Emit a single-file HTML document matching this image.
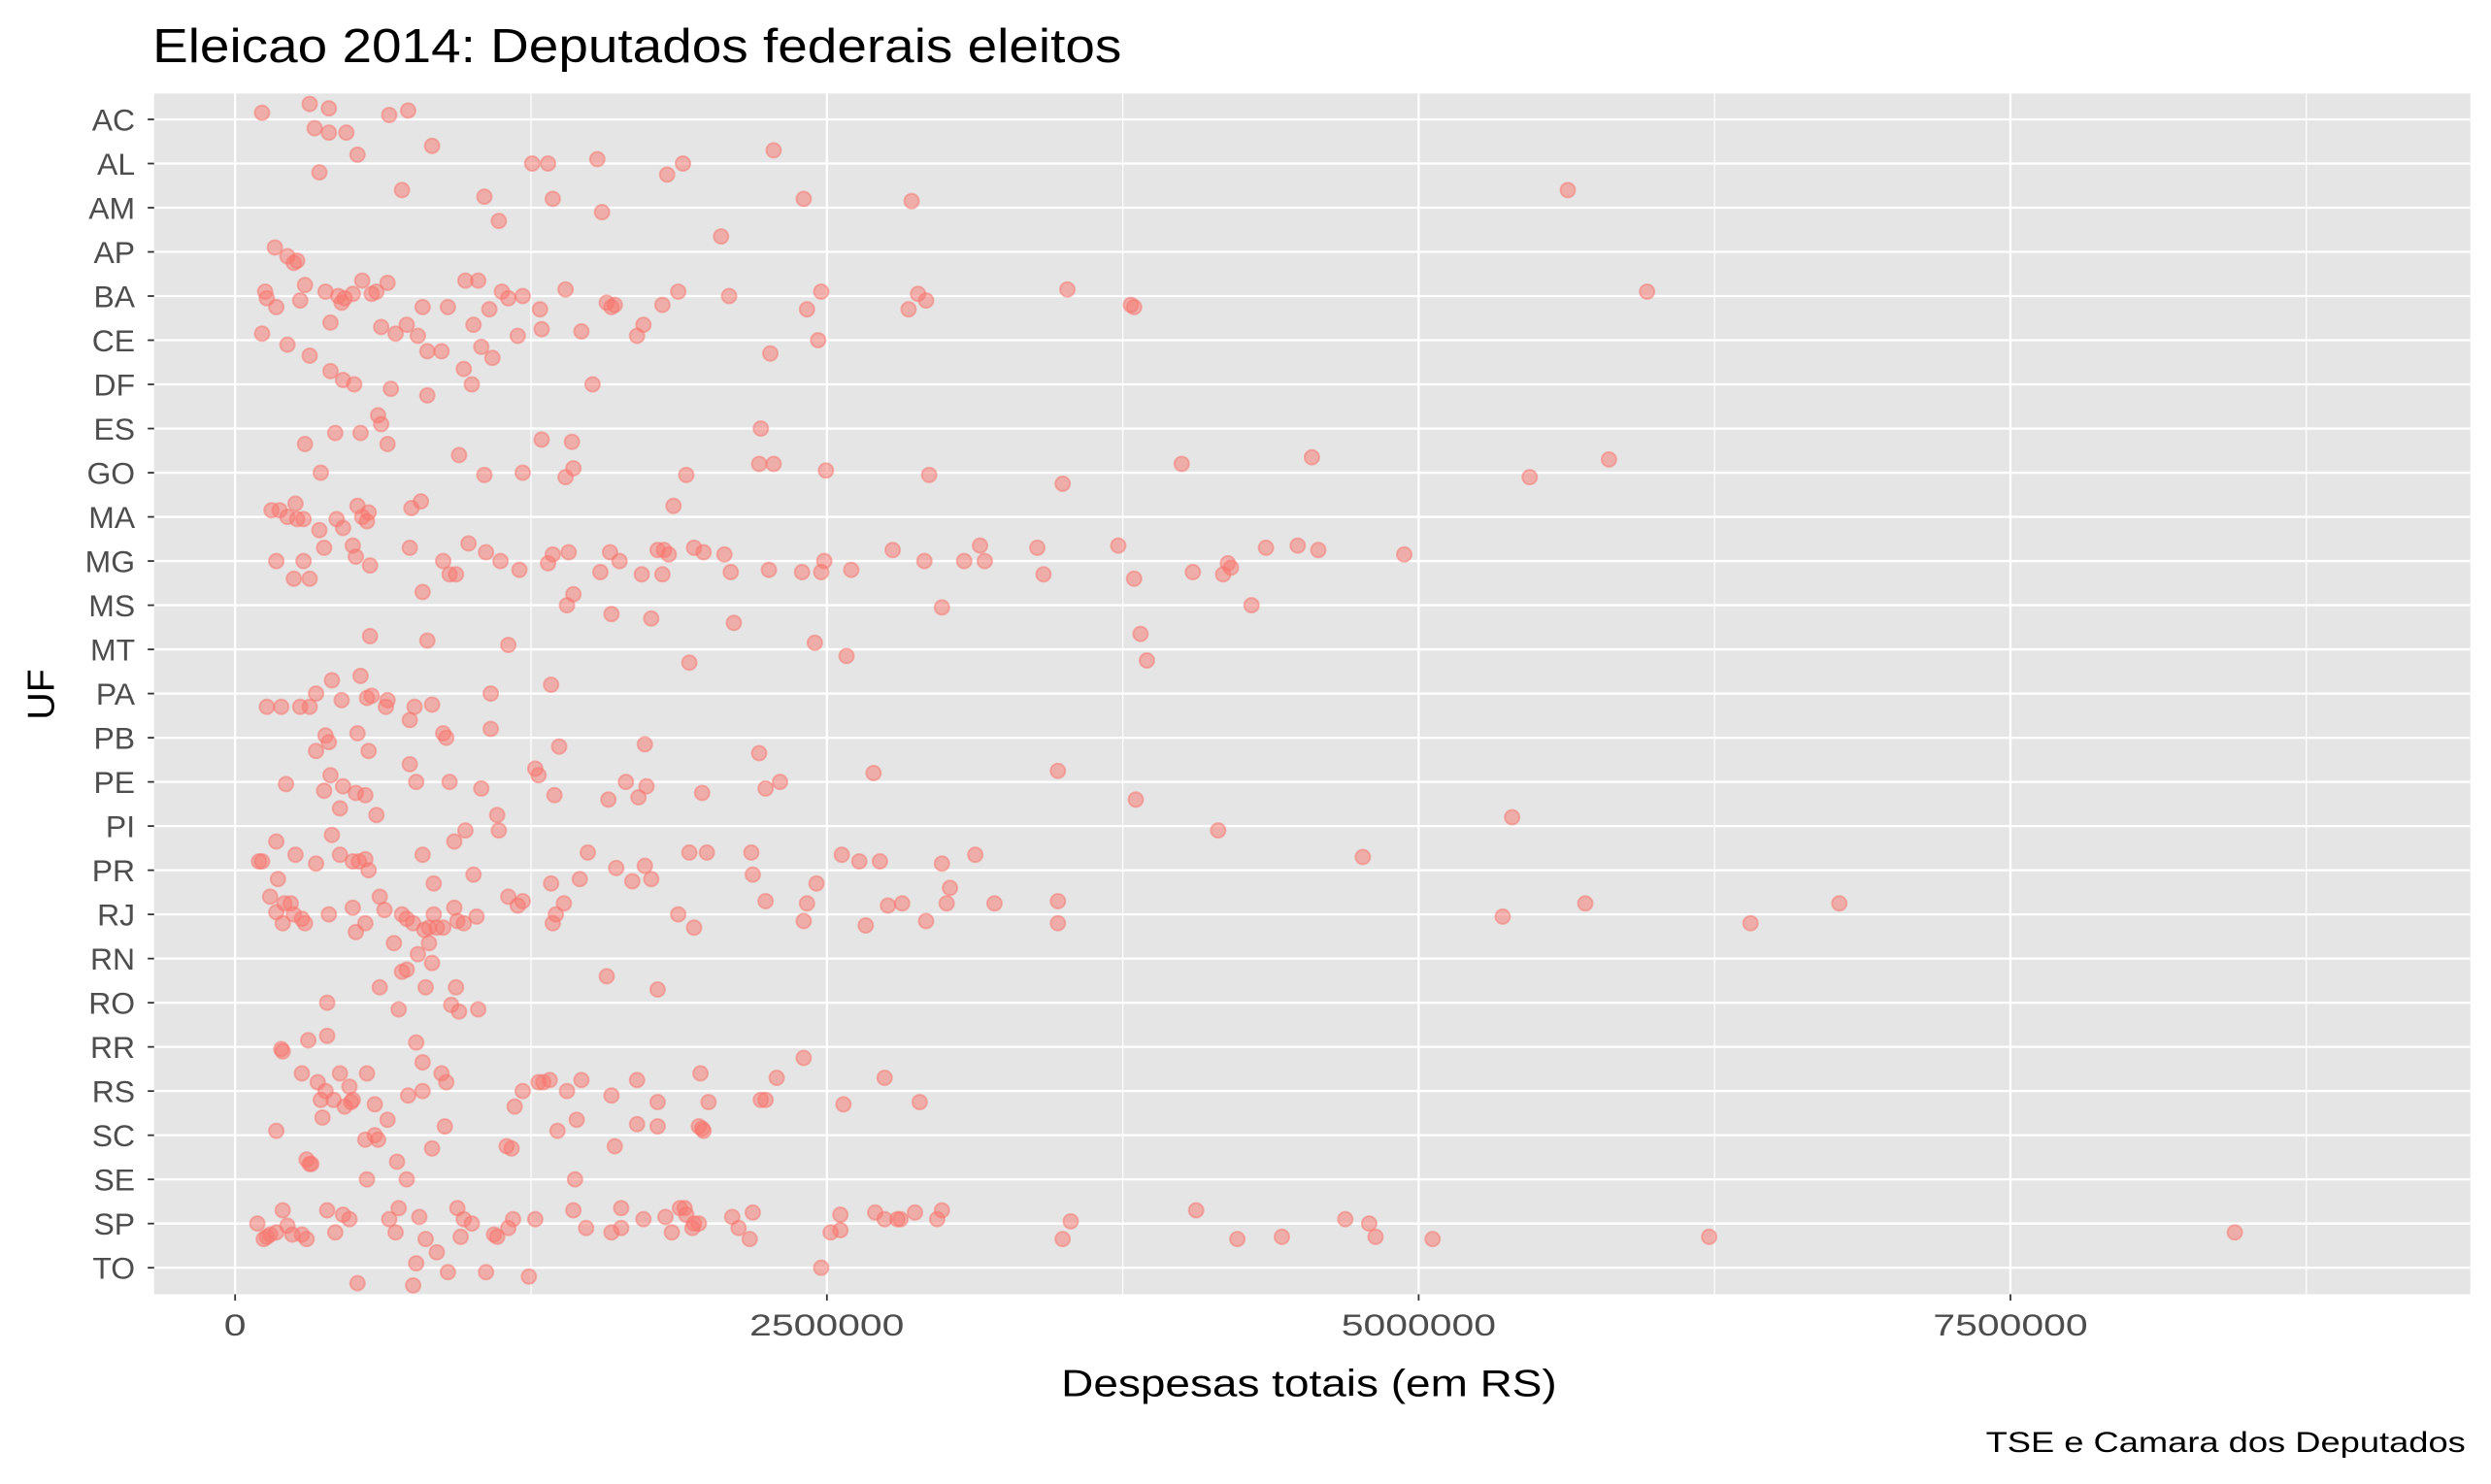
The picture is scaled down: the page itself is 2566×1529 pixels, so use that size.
<!DOCTYPE html>
<html><head><meta charset="utf-8"><style>
html,body{margin:0;padding:0;background:#fff}
svg{display:block}
text{font-family:"Liberation Sans",Arial,sans-serif}
</style></head><body>
<svg id="chart" width="2566" height="1529" viewBox="0 0 1568 934" xmlns="http://www.w3.org/2000/svg">
<rect width="1568" height="934" fill="#fff"/>
<text x="96" y="39" font-size="30" textLength="610" lengthAdjust="spacingAndGlyphs" fill="#000">Eleicao 2014: Deputados federais eleitos</text>
<rect x="97" y="58.7" width="1458" height="756" fill="#e5e5e5"/>
<g id="grid"></g>
<g id="points"></g>
<g id="axes"></g>
<text x="824" y="879" font-size="24" textLength="312" lengthAdjust="spacingAndGlyphs" text-anchor="middle" fill="#000">Despesas totais (em RS)</text>
<text transform="translate(34,437) rotate(-90)" font-size="24" text-anchor="middle" fill="#000">UF</text>
<text x="1552" y="914" font-size="18" textLength="302" lengthAdjust="spacingAndGlyphs" text-anchor="end" fill="#000">TSE e Camara dos Deputados</text>
</svg>
<script>
const states=["AC","AL","AM","AP","BA","CE","DF","ES","GO","MA","MG","MS","MT","PA","PB","PE","PI","PR","RJ","RN","RO","RR","RS","SC","SE","SP","TO"];
const xTicks=[0,2500000,5000000,7500000];
const xTickLabels=["0","2500000","5000000","7500000"];
const xMinor=[1250000,3750000,6250000,8750000];
// values in thousands of R$, per state
const values=[
[114,315,396,651,731,336,396,470],
[517,832,356,1255,1322,1530,1892,1825,2275],
[705,1053,1342,1114,1550,2402,2858,5630],
[168,221,248,262,2053],
[127,134,174,295,382,436,463,497,275,450,537,597,644,577,792,899,973,1027,1074,1127,1154,1215,1396,1288,1570,1604,1590,1805,1872,2087,2416,2476,2885,2919,2845,3516,3784,3798,5965],
[114,221,315,403,617,678,725,772,812,872,1007,1040,1087,1194,1295,1463,1725,1698,2261,2463],
[403,456,503,966,1000,812,1510,658],
[604,617,423,530,644,295,1295,1423,2221],
[946,362,1053,1215,1396,1429,1906,2214,2275,2496,2932,3496,3999,4549,5469,5804],
[154,188,221,262,255,289,356,429,456,517,537,564,557,745,785,1852],
[174,248,315,289,376,497,510,570,738,879,906,933,986,1060,1121,1201,1322,1342,1409,1543,1584,1624,1718,1805,1785,1812,1832,1939,1979,2067,2094,2255,2395,2476,2489,2603,2778,2912,3080,3147,3167,3389,3415,3731,3798,4046,4174,4194,4207,4355,4489,4576,4939],
[792,1429,1402,1590,1758,2107,2986,4294],
[570,812,1154,1919,2449,2583,3825,3852],
[134,195,275,315,342,409,450,530,557,577,637,644,758,832,1080,1335],
[342,382,396,517,564,738,879,892,1080,1369,1731,2214],
[215,376,403,456,510,550,738,765,906,1040,1268,1282,1349,1577,1651,1704,1738,1973,2241,2302,2697,3476,3805],
[597,443,174,409,926,973,1107,1114,4153,5395],
[101,114,181,255,342,443,497,523,550,564,792,839,1007,1335,1456,1490,1610,1678,1731,1758,1919,1993,2181,2187,2456,2563,2637,2724,2986,3020,3127,4764],
[148,174,201,208,235,248,295,282,396,497,510,550,611,631,705,725,752,799,819,839,852,879,926,939,966,1020,1154,1194,1215,1342,1355,1389,1872,1939,2241,2402,2416,2664,2758,2818,2919,3006,3208,3476,3476,5355,5704,6402,6777],
[671,725,772,819,832,705,1570],
[1785,389,691,611,805,913,946,1027,933],
[195,201,309,389,765,792,2402],
[282,349,362,382,416,443,483,497,490,463,557,590,731,792,872,892,1181,1215,1282,1302,1329,1402,1463,1590,1698,1785,1966,2000,2221,2241,2288,2570,2744,2892],
[174,369,550,590,604,644,832,886,1147,1168,1362,1443,1604,1698,1785,1959,1973,1979],
[302,315,322,557,684,725,1436],
[94,134,121,148,174,201,221,242,282,302,389,423,456,483,651,678,691,778,805,939,953,966,1000,1094,1107,1154,1174,1268,1429,1483,1590,1631,1631,1725,1818,1845,1879,1899,1906,1932,1939,1959,2100,2127,2174,2187,2516,2557,2557,2704,2744,2798,2811,2872,2966,2986,3496,3530,4060,4234,4422,4690,4791,4818,5059,6227,8448],
[517,752,765,852,899,1060,1241,2476]
];
// vertical jitter in category units (positive = downward)
const jitter=[
[-.15,-.35,-.25,-.1,-.2,.2,.3,.3],
[-.2,-.4,.2,0,0,-.1,0,.25,-.3],
[-.4,-.25,-.2,.3,.1,-.2,-.15,-.4],
[-.1,.1,.25,.2,-.35],
[-.1,.05,.25,-.25,-.1,0,.05,-.05,.1,.15,-.35,-.1,-.3,-.05,.25,.25,-.35,-.35,.3,-.1,.05,0,-.15,.3,.15,.2,.25,.2,-.1,0,.3,-.1,-.05,.1,.3,-.15,.2,.25,-.1],
[-.15,.1,.35,-.4,-.3,-.15,-.35,-.1,.25,.25,-.35,.15,.4,-.1,-.25,-.2,-.35,-.1,.3,0],
[-.3,-.1,0,-.35,0,.25,0,.1],
[-.3,-.1,.1,.1,.35,.35,.25,.3,0],
[-.4,0,.05,0,.1,-.1,.05,-.2,-.2,-.05,.05,.25,-.2,-.35,.1,-.3],
[-.15,-.15,0,.05,-.3,.05,.3,.05,.25,-.25,0,-.1,.1,-.2,-.35,-.25],
[0,.4,.4,0,-.3,-.35,-.1,.1,-.3,0,.3,.3,-.4,-.2,0,.2,.05,-.15,-.2,.25,-.2,0,.3,.3,-.25,-.25,-.15,-.3,-.2,-.15,.25,.2,.25,.25,0,.2,-.25,0,0,-.35,0,-.3,.3,-.35,.4,.25,.3,.05,.15,-.3,-.35,-.25,-.15],
[-.3,-.25,0,.2,.3,.4,.05,0],
[-.3,-.2,-.1,.3,-.15,.15,-.35,.25],
[.3,.3,.3,.3,0,-.3,.15,-.4,.1,.05,.3,.15,.3,.25,0,-.2],
[.3,-.05,.1,-.1,.3,-.4,-.1,0,-.2,.2,.15,.35],
[.05,.2,-.15,.1,.25,.3,-.4,0,0,.15,-.3,-.15,.3,.4,0,.35,.1,.25,.15,0,-.2,-.25,.4],
[-.25,-.4,.35,.2,.35,.1,-.25,.1,.1,-.2],
[-.2,-.2,.2,-.35,-.15,-.35,-.2,-.2,-.25,0,-.35,.3,.1,.3,.2,-.4,-.05,.25,-.1,.2,-.4,-.4,-.4,.1,.3,-.35,-.2,-.2,-.15,.4,-.35,-.3],
[-.4,-.05,.2,-.25,-.25,0,.2,.1,0,-.15,.4,.2,-.4,-.1,0,.1,.2,.35,.3,0,.3,.3,-.15,.15,.2,.05,-.4,-.2,-.3,.2,0,-.25,0,.3,-.3,.15,-.25,.25,-.2,-.25,.15,-.25,-.25,-.3,.2,.05,-.25,.2,-.25],
[-.35,.25,-.1,-.35,.1,.3,.4],
[-.3,0,.15,-.35,-.35,.05,.2,.15,-.35],
[.05,.1,-.15,-.25,-.1,.35,.25],
[-.4,-.2,.2,0,.2,-.4,-.1,.2,.25,.35,-.4,.3,.1,0,-.4,-.2,.35,0,-.2,-.2,-.25,0,-.25,.1,-.25,.25,-.4,.25,.2,.2,-.3,.3,-.3,.25],
[-.1,-.4,.1,0,.1,-.35,.3,-.2,.25,.3,-.1,-.35,.25,-.25,-.2,-.2,-.15,-.1],
[-.45,-.35,-.35,0,-.4,0,0],
[0,.3,.35,.25,.2,-.3,.05,.25,.25,.35,-.3,.2,-.2,-.1,-.1,.2,-.35,-.15,.35,-.35,.3,-.1,0,.25,.3,.1,-.1,-.1,-.3,.1,.2,-.35,.1,-.1,-.15,.2,-.35,-.35,-.2,.1,0,0,-.15,.1,.35,-.25,.2,-.2,.15,-.25,-.1,-.1,-.1,-.25,-.1,-.3,.35,-.05,-.3,.35,.3,-.1,0,.3,.35,.3,.2],
[.35,.4,-.1,-.35,.1,.1,.2,0]
];
const NS="http://www.w3.org/2000/svg";
const X0=148, PX_PER=372.5/2500000, PL=97, PR=1555, PT=58.7, PB=814.7;
const Y0=75, DY=(798-75)/26;
function xs(v){return X0+v*PX_PER;}
function ys(i){return Y0+i*DY;}
function mk(tag,attrs,parent){const e=document.createElementNS(NS,tag);for(const k in attrs)e.setAttribute(k,attrs[k]);parent.appendChild(e);return e;}
const grid=document.getElementById('grid'),pts=document.getElementById('points'),axes=document.getElementById('axes');
xMinor.forEach(v=>{const l=mk('line',{x1:xs(v),x2:xs(v),y1:PT,y2:PB,stroke:'#fff','stroke-width':0.7},grid);

});
xTicks.forEach((v,i)=>{const l=mk('line',{x1:xs(v),x2:xs(v),y1:PT,y2:PB,stroke:'#fff','stroke-width':1.4},grid);


const t=mk('line',{x1:xs(v),x2:xs(v),y1:PB,y2:PB+4,stroke:'#333','stroke-width':1.1},axes);


const label=xTickLabels[i];
const tx=mk('text',{x:xs(v),y:PB+26,'font-size':19.5,'text-anchor':'middle',fill:'#4d4d4d',textLength:label.length*13.9,lengthAdjust:'spacingAndGlyphs'},axes);
tx.textContent=label;

});
states.forEach((s,i)=>{const y=ys(i);
const l=mk('line',{x1:PL,x2:PR,y1:y,y2:y,stroke:'#fff','stroke-width':1.4},grid);


const t=mk('line',{x1:PL-4,x2:PL,y1:y,y2:y,stroke:'#333','stroke-width':1.1},axes);


const tx=mk('text',{x:PL-12,y:y+7,'font-size':19.5,'text-anchor':'end',fill:'#4d4d4d'},axes);
tx.textContent=s;

});
values.forEach((arr,i)=>{arr.forEach((v,j)=>{
const c=mk('circle',{cx:xs(v*1000),cy:ys(i+jitter[i][j]),r:4.6,fill:'#F8766D','fill-opacity':0.5,stroke:'#F8766D','stroke-opacity':0.5,'stroke-width':1.2},pts);

});});
</script>
</body></html>
